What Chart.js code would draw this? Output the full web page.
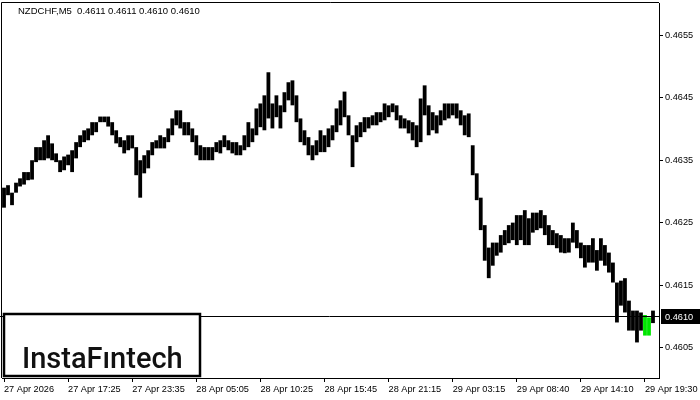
<!DOCTYPE html>
<html>
<head>
<meta charset="utf-8">
<script src="https://cdn.jsdelivr.net/npm/chart.js@4.4.1/dist/chart.umd.min.js"></script>
<style>
    html, body { margin: 0; padding: 0; background: #fff; }
    #wrap { width: 700px; height: 400px; }
</style>
</head>
<body>
<div id="wrap"><canvas id="chart" width="700" height="400"></canvas></div>
<script>
// Symbol info
const symbolTitle = 'NZDCHF,M5  0.4611 0.4611 0.4610 0.4610';
const lastPrice = 0.4610;

// Time axis labels (one every 16 bars)
const timeLabels = ['27 Apr 2026', '27 Apr 17:25', '27 Apr 23:35', '28 Apr 05:05', '28 Apr 10:25',
    '28 Apr 15:45', '28 Apr 21:15', '29 Apr 03:15', '29 Apr 08:40', '29 Apr 14:10', '29 Apr 19:30'];
const labelStep = 16;

// Price axis ticks
const priceTicks = [0.4605, 0.4615, 0.4625, 0.4635, 0.4645, 0.4655];

// Bar highs / lows
const highs = [
    0.46306, 0.46310, 0.46298, 0.46314, 0.46321, 0.46331, 0.46331, 0.46350, 0.46371, 0.46371,
    0.46382, 0.46390, 0.46377, 0.46361, 0.46350, 0.46356, 0.46359, 0.46366, 0.46379, 0.46390,
    0.46398, 0.46401, 0.46411, 0.46411, 0.46420, 0.46420, 0.46420, 0.46411, 0.46398, 0.46387,
    0.46382, 0.46390, 0.46390, 0.46371, 0.46350, 0.46358, 0.46366, 0.46379, 0.46382, 0.46390,
    0.46387, 0.46401, 0.46417, 0.46430, 0.46430, 0.46411, 0.46411, 0.46401, 0.46390, 0.46374,
    0.46371, 0.46371, 0.46371, 0.46379, 0.46382, 0.46390, 0.46382, 0.46379, 0.46379, 0.46374,
    0.46390, 0.46411, 0.46401, 0.46433, 0.46441, 0.46454, 0.46491, 0.46441, 0.46454, 0.46438,
    0.46459, 0.46475, 0.46478, 0.46454, 0.46417, 0.46398, 0.46387, 0.46374, 0.46382, 0.46398,
    0.46390, 0.46401, 0.46406, 0.46433, 0.46446, 0.46460, 0.46422, 0.46390, 0.46406, 0.46411,
    0.46419, 0.46419, 0.46422, 0.46427, 0.46427, 0.46441, 0.46438, 0.46441, 0.46438, 0.46422,
    0.46417, 0.46414, 0.46411, 0.46406, 0.46449, 0.46470, 0.46438, 0.46427, 0.46422, 0.46430,
    0.46441, 0.46441, 0.46441, 0.46441, 0.46430, 0.46422, 0.46425, 0.46374, 0.46329, 0.46290,
    0.46246, 0.46210, 0.46218, 0.46218, 0.46230, 0.46238, 0.46246, 0.46250, 0.46262, 0.46262,
    0.46270, 0.46257, 0.46266, 0.46266, 0.46270, 0.46262, 0.46246, 0.46238, 0.46233, 0.46230,
    0.46225, 0.46225, 0.46250, 0.46238, 0.46218, 0.46214, 0.46214, 0.46225, 0.46206, 0.46225,
    0.46214, 0.46202, 0.46186, 0.46154, 0.46157, 0.46161, 0.46125, 0.46109, 0.46109, 0.46106,
    0.46102, 0.46098, 0.46109
];
const lows = [
    0.46274, 0.46294, 0.46278, 0.46298, 0.46308, 0.46311, 0.46318, 0.46319, 0.46347, 0.46350,
    0.46350, 0.46353, 0.46350, 0.46347, 0.46331, 0.46334, 0.46342, 0.46331, 0.46353, 0.46371,
    0.46379, 0.46382, 0.46390, 0.46395, 0.46411, 0.46411, 0.46404, 0.46390, 0.46377, 0.46371,
    0.46361, 0.46366, 0.46369, 0.46326, 0.46290, 0.46329, 0.46337, 0.46358, 0.46369, 0.46369,
    0.46369, 0.46379, 0.46390, 0.46406, 0.46401, 0.46390, 0.46390, 0.46379, 0.46358, 0.46350,
    0.46350, 0.46350, 0.46350, 0.46363, 0.46361, 0.46371, 0.46366, 0.46361, 0.46358, 0.46358,
    0.46366, 0.46371, 0.46379, 0.46390, 0.46403, 0.46398, 0.46417, 0.46401, 0.46419, 0.46401,
    0.46427, 0.46446, 0.46438, 0.46411, 0.46379, 0.46374, 0.46358, 0.46350, 0.46358, 0.46363,
    0.46363, 0.46371, 0.46382, 0.46395, 0.46406, 0.46419, 0.46390, 0.46339, 0.46379, 0.46387,
    0.46395, 0.46401, 0.46406, 0.46406, 0.46411, 0.46414, 0.46419, 0.46427, 0.46414, 0.46401,
    0.46401, 0.46393, 0.46382, 0.46371, 0.46379, 0.46422, 0.46390, 0.46398, 0.46393, 0.46406,
    0.46414, 0.46417, 0.46422, 0.46417, 0.46406, 0.46390, 0.46387, 0.46326, 0.46286, 0.46238,
    0.46189, 0.46161, 0.46181, 0.46197, 0.46202, 0.46214, 0.46217, 0.46222, 0.46214, 0.46222,
    0.46214, 0.46214, 0.46234, 0.46238, 0.46241, 0.46230, 0.46214, 0.46214, 0.46209, 0.46202,
    0.46201, 0.46202, 0.46218, 0.46209, 0.46193, 0.46178, 0.46186, 0.46186, 0.46173, 0.46189,
    0.46181, 0.46170, 0.46154, 0.46090, 0.46117, 0.46106, 0.46077, 0.46077, 0.46058, 0.46077,
    0.46069, 0.46069, 0.46089
];

// pattern bars painted green
const signalBars = [160, 161];

const axisFont = { family: "'Liberation Sans', Arial, sans-serif", size: 9.2 };

// one empty slot on the right like the terminal's chart shift
const slots = highs.length + 1;
const categories = [];
for (let i = 0; i < slots; i++) {
    const k = i / labelStep;
    categories.push(i % labelStep === 0 && k < timeLabels.length ? timeLabels[k] : '');
}
const bars = highs.map((h, i) => [lows[i], h]);

const chartDecor = {
    id: 'chartDecor',
    afterDatasetsDraw(chart) {
        const { ctx, chartArea } = chart;
        const y = chart.scales.y.getPixelForValue(lastPrice);
        ctx.save();
        // frame top & left
        ctx.strokeStyle = '#000';
        ctx.lineWidth = 1;
        ctx.beginPath();
        ctx.moveTo(chartArea.left - 0.5, chartArea.bottom);
        ctx.lineTo(chartArea.left - 0.5, chartArea.top - 0.5);
        ctx.lineTo(chartArea.right, chartArea.top - 0.5);
        ctx.stroke();
        // last price line
        ctx.beginPath();
        ctx.moveTo(0, Math.round(y) + 0.5);
        ctx.lineTo(chartArea.right, Math.round(y) + 0.5);
        ctx.stroke();
        ctx.restore();
    },
    afterDraw(chart) {
        const { ctx, chartArea } = chart;
        const y = Math.round(chart.scales.y.getPixelForValue(lastPrice));
        ctx.save();
        // price tag
        ctx.fillStyle = '#000';
        ctx.fillRect(chartArea.right + 2, y - 7, 40, 15);
        ctx.fillStyle = '#fff';
        ctx.font = '9.2px ' + axisFont.family;
        ctx.textBaseline = 'middle';
        ctx.textAlign = 'left';
        ctx.fillText(lastPrice.toFixed(4), chartArea.right + 6, y + 1);

        // title
        ctx.fillStyle = '#000';
        ctx.font = '9.5px ' + axisFont.family;
        ctx.fillText(symbolTitle, 18, 11);

        // logo box
        ctx.fillStyle = '#fff';
        ctx.fillRect(4, 314, 196, 62);
        ctx.strokeStyle = '#000';
        ctx.lineWidth = 2.5;
        ctx.strokeRect(4, 314, 196, 62);
        ctx.fillStyle = '#111';
        ctx.font = "500 29px Roboto, 'Liberation Sans', sans-serif";
        ctx.textBaseline = 'alphabetic';
        ctx.fillText('InstaF\u0131ntech', 22, 368);
        ctx.restore();
    }
};

new Chart(document.getElementById('chart'), {
    type: 'bar',
    data: {
        labels: categories,
        datasets: [{
            data: bars,
            backgroundColor: ctx => signalBars.includes(ctx.dataIndex) ? '#00e600' : '#000',
            borderWidth: 0,
            barPercentage: 1,
            categoryPercentage: 0.95
        }]
    },
    options: {
        responsive: false,
        devicePixelRatio: 1,
        animation: false,
        layout: { padding: { left: 2, top: 3, right: 0, bottom: 0 } },
        plugins: { legend: { display: false }, tooltip: { enabled: false } },
        scales: {
            x: {
                offset: true,
                grid: {
                    offset: false,
                    drawOnChartArea: false,
                    tickLength: 4,
                    color: ctx => (ctx.tick && ctx.tick.label) ? '#000' : 'rgba(0,0,0,0)'
                },
                border: { color: '#000' },
                ticks: {
                    autoSkip: false, maxRotation: 0, minRotation: 0,
                    align: 'start', padding: 2, color: '#000', font: axisFont
                },
                afterFit: s => { s.height = 22; s.paddingLeft = 0; s.paddingRight = 0; }
            },
            y: {
                position: 'right',
                min: 0.46001,
                max: 0.46602,
                afterBuildTicks: s => { s.ticks = priceTicks.map(v => ({ value: v })); },
                grid: { drawOnChartArea: false, tickLength: 4, color: '#000' },
                border: { color: '#000' },
                ticks: { padding: 2, color: '#000', font: axisFont, callback: v => Number(v).toFixed(4) },
                afterFit: s => { s.width = 41; s.paddingTop = 0; s.paddingBottom = 0; }
            }
        }
    },
    plugins: [chartDecor]
});
</script>
</body>
</html>
